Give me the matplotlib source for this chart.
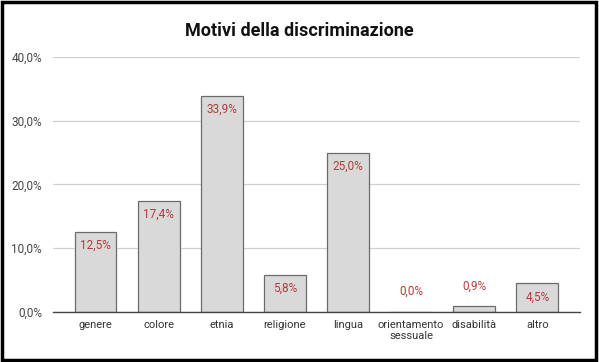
import matplotlib.pyplot as plt
from matplotlib.patches import Rectangle

categorie = ['genere', 'colore', 'etnia', 'religione', 'lingua',
             'orientamento\nsessuale', 'disabilità', 'altro']
valori = [12.5, 17.4, 33.9, 5.8, 25.0, 0.0, 0.9, 4.5]
y_ticks = [0, 10, 20, 30, 40]

plt.rcParams['font.family'] = ['Liberation Sans Narrow', 'Roboto', 'DejaVu Sans']

fig = plt.figure(figsize=(5.99, 3.62), dpi=100)
ax = fig.add_axes([0.0885, 0.138, 0.8795, 0.705])

x = range(len(categorie))
bars = ax.bar(x, valori, width=0.665, color='#d9d9d9', edgecolor='#6b6b6b',
              linewidth=0.9, zorder=3)

for b, v in zip(bars, valori):
    testo = f'{v:.1f}%'.replace('.', ',')
    cx = b.get_x() + b.get_width() / 2
    if v < 3:
        ax.annotate(testo, (cx, v), xytext=(0, 10), textcoords='offset points',
                    ha='center', va='bottom', fontsize=8.5, color='#b23b3b')
    else:
        ax.annotate(testo, (cx, v), xytext=(0, -5), textcoords='offset points',
                    ha='center', va='top', fontsize=8.5, color='#b23b3b')

ax.set_xlim(-0.673, 7.673)
ax.set_ylim(0, 40)
ax.set_yticks(y_ticks)
ax.set_yticklabels([f'{t:.1f}%'.replace('.', ',') for t in y_ticks])
ax.set_xticks(list(x))
ax.set_xticklabels(categorie, fontsize=8, color='#333333', linespacing=1.1)
ax.tick_params(axis='y', length=0, labelsize=8.5, labelcolor='#444444', pad=8)
ax.tick_params(axis='x', length=0, pad=6)
ax.grid(axis='y', color='#d0d0d0', linewidth=0.9, zorder=0)
for s in ['top', 'right', 'left']:
    ax.spines[s].set_visible(False)
ax.spines['bottom'].set_color('#444444')
ax.spines['bottom'].set_linewidth(1.0)
ax.spines['bottom'].set_zorder(4)

fig.text(0.5, 0.915, 'Motivi della discriminazione', ha='center', va='center',
         fontsize=13, fontweight='bold', color='#111111')

fig.patches.append(Rectangle((0.003, 0.005), 0.992, 0.99, transform=fig.transFigure,
                             fill=False, edgecolor='black', linewidth=2.5))

fig.savefig('out.png', dpi=100)
